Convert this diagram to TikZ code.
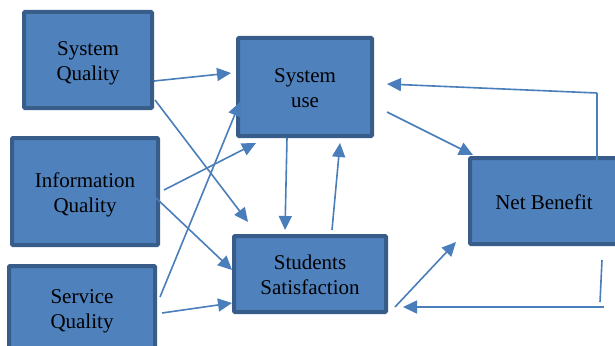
\documentclass[tikz,border=0pt]{standalone}
\usepackage{fontspec}
\setmainfont{Liberation Serif}
\usetikzlibrary{arrows.meta,calc}
\definecolor{boxfill}{HTML}{4F81BD}
\definecolor{boxline}{HTML}{385D8A}
\definecolor{arrowc}{HTML}{4A7EBB}
\newcommand{\boxtext}[1]{\raisebox{-3pt}[\height][\depth]{\begin{tabular}{@{}c@{}}#1\end{tabular}}}
\begin{document}
\begin{tikzpicture}[x=1pt,y=-1pt,
  blk/.style={draw=boxline,fill=boxfill,line width=4pt,rounded corners=1pt,
    align=center,font=\fontsize{21}{25}\selectfont,text=black,inner sep=0pt},
  arr/.style={draw=arrowc,line width=1.6pt,-{Triangle[length=14pt,width=13pt]}},
  ln/.style={draw=arrowc,line width=1.6pt}]
\useasboundingbox (0,0) rectangle (615,345);
\node[blk,minimum width=128pt,minimum height=96pt] (sq) at (88,60) {\boxtext{System\\Quality}};
\node[blk,minimum width=146pt,minimum height=107pt] (iq) at (85,191.5) {\boxtext{Information\\Quality}};
\node[blk,minimum width=146pt,minimum height=84pt] (svq) at (82,308) {\boxtext{Service\\Quality}};
\node[blk,minimum width=134pt,minimum height=98pt] (su) at (305,87) {\boxtext{System\\use}};
\node[blk,minimum width=152pt,minimum height=76pt] (ss) at (310,274) {\boxtext{Students\\Satisfaction}};
\node[blk,minimum width=148pt,minimum height=86pt] (nb) at (544,201) {\boxtext{Net Benefit}};
% inputs
\draw[arr] ($(sq)+(66,21)$) -- ($(su)+(-74,-14)$);
\draw[arr] ($(sq)+(67,40)$) -- ($(ss)+(-62,-52)$);
\draw[arr] ($(iq)+(79,-1.5)$) -- ($(su)+(-49,56)$);
\draw[arr] ($(iq)+(71,6.5)$) -- ($(ss)+(-78,-4)$);
\draw[arr] ($(svq)+(78,-11)$) -- ($(su)+(-65,15)$);
\draw[arr] ($(svq)+(80,5)$) -- ($(ss)+(-78,29)$);
% between use and satisfaction
\draw[arr] ($(su)+(-18,51)$) -- ($(ss)+(-25,-44)$);
\draw[arr] ($(ss)+(22,-44)$) -- ($(su)+(35,56)$);
% to net benefit
\draw[arr] ($(su)+(82,25)$) -- ($(nb)+(-71,-46)$);
\draw[arr] ($(ss)+(85,33)$) -- ($(nb)+(-88,41)$);
% feedback loops
\coordinate (fa) at ($(nb)+(53,-108)$);
\draw[ln] ($(nb)+(53,-38)$) -- (fa);
\draw[arr] (fa) -- ($(su)+(82,-3)$);
\draw[ln] ($(nb)+(58,59)$) -- ($(nb)+(56,101)$);
\draw[arr] ($(nb)+(60,106)$) -- ($(ss)+(93,33)$);
\end{tikzpicture}
\end{document}
